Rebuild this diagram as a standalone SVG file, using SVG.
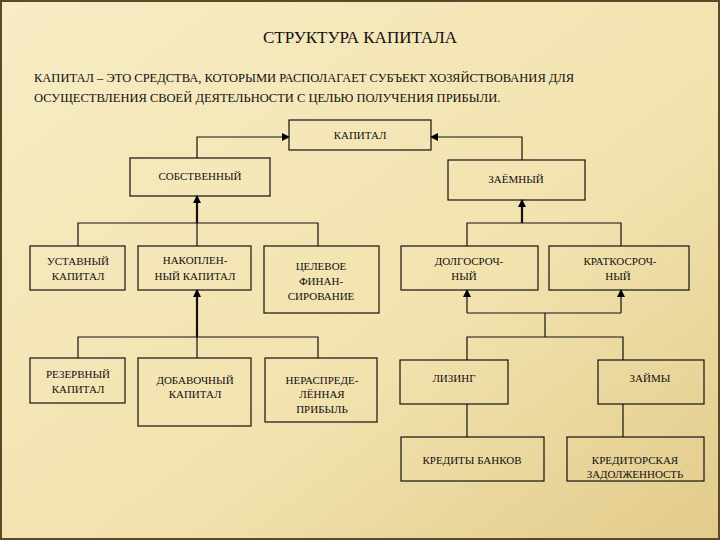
<svg xmlns="http://www.w3.org/2000/svg" width="720" height="540" viewBox="0 0 720 540">
<defs>
<linearGradient id="bg" x1="0" y1="0" x2="1" y2="1">
<stop offset="0" stop-color="#f7ecc4"/><stop offset="0.6" stop-color="#f2e2ae"/><stop offset="1" stop-color="#e2cb8a"/>
</linearGradient>
<marker id="ar" markerWidth="8" markerHeight="8" refX="7" refY="4" orient="auto" markerUnits="userSpaceOnUse">
<path d="M0,0 L8,4 L0,8 Z" fill="#000"/>
</marker>
<style>
.b{fill:none;stroke:#111;stroke-width:1.2}
.t{font-family:"Liberation Serif",serif;font-size:11px;fill:#111;text-anchor:middle}
.c{fill:none;stroke:#111;stroke-width:1.2}
.k{fill:none;stroke:#111;stroke-width:2.2}
</style>
</defs>
<rect width="720" height="540" fill="url(#bg)"/>
<rect x="1" y="1" width="718" height="538" fill="none" stroke="#5a4a2a" stroke-width="2"/>
<text x="360" y="43" font-family="Liberation Serif,serif" font-size="17" text-anchor="middle" fill="#111">СТРУКТУРА КАПИТАЛА</text>
<text x="34" y="82" font-family="Liberation Serif,serif" font-size="12.5" fill="#111">КАПИТАЛ – ЭТО СРЕДСТВА, КОТОРЫМИ РАСПОЛАГАЕТ СУБЪЕКТ ХОЗЯЙСТВОВАНИЯ ДЛЯ</text>
<text x="34" y="102" font-family="Liberation Serif,serif" font-size="12.5" fill="#111">ОСУЩЕСТВЛЕНИЯ СВОЕЙ ДЕЯТЕЛЬНОСТИ С ЦЕЛЬЮ ПОЛУЧЕНИЯ ПРИБЫЛИ.</text>
<g id="connectors">
<path class="c" d="M197,158 V137 H289" marker-end="url(#ar)"/>
<path class="c" d="M522,160 V137 H431" marker-end="url(#ar)"/>
<path class="k" d="M197,223 V196" marker-end="url(#ar)"/>
<path class="c" d="M78,246 V223 H318 V246 M197,223 V246"/>
<path class="k" d="M197,337 V290" marker-end="url(#ar)"/>
<path class="c" d="M78,358 V337 H318 V358 M197,337 V358"/>
<path class="k" d="M522,223 V200" marker-end="url(#ar)"/>
<path class="c" d="M467,246 V223 H621 V246"/>
<path class="c" d="M467,313 V290" marker-end="url(#ar)"/>
<path class="c" d="M621,313 V290" marker-end="url(#ar)"/>
<path class="c" d="M467,313 H621 M545,313 V337 M467,360 V337 H623 V360"/>
<path class="c" d="M467,404 V437 M623,404 V437"/>
</g>
<g id="n-kapital"><rect class="b" x="289" y="120" width="142" height="30"/><text class="t" x="360" y="139">КАПИТАЛ</text></g>
<g id="n-sobst"><rect class="b" x="130" y="158" width="140" height="38"/><text class="t" x="200" y="180">СОБСТВЕННЫЙ</text></g>
<g id="n-zaem"><rect class="b" x="448" y="160" width="137" height="40"/><text class="t" x="516" y="183">ЗАЁМНЫЙ</text></g>
<g id="n-ustav"><rect class="b" x="30" y="246" width="95" height="44"/><text class="t" x="78" y="265">УСТАВНЫЙ</text><text class="t" x="78" y="280">КАПИТАЛ</text></g>
<g id="n-nakop"><rect class="b" x="138" y="246" width="113" height="44"/><text class="t" x="195" y="264">НАКОПЛЕН-</text><text class="t" x="195" y="280">НЫЙ КАПИТАЛ</text></g>
<g id="n-celev"><rect class="b" x="264" y="246" width="115" height="67"/><text class="t" x="321" y="270">ЦЕЛЕВОЕ</text><text class="t" x="321" y="285">ФИНАН-</text><text class="t" x="321" y="300">СИРОВАНИЕ</text></g>
<g id="n-dolg"><rect class="b" x="401" y="246" width="137" height="44"/><text class="t" x="469" y="265">ДОЛГОСРОЧ-</text><text class="t" x="464" y="280">НЫЙ</text></g>
<g id="n-krat"><rect class="b" x="549" y="246" width="140" height="44"/><text class="t" x="620" y="265">КРАТКОСРОЧ-</text><text class="t" x="618" y="280">НЫЙ</text></g>
<g id="n-rezerv"><rect class="b" x="30" y="358" width="95" height="45"/><text class="t" x="78" y="378">РЕЗЕРВНЫЙ</text><text class="t" x="78" y="393">КАПИТАЛ</text></g>
<g id="n-dobav"><rect class="b" x="138" y="358" width="113" height="68"/><text class="t" x="195" y="384">ДОБАВОЧНЫЙ</text><text class="t" x="195" y="398">КАПИТАЛ</text></g>
<g id="n-neras"><rect class="b" x="265" y="358" width="112" height="64"/><text class="t" x="322" y="384">НЕРАСПРЕДЕ-</text><text class="t" x="322" y="398">ЛЁННАЯ</text><text class="t" x="322" y="413">ПРИБЫЛЬ</text></g>
<g id="n-lizing"><rect class="b" x="400" y="360" width="108" height="44"/><text class="t" x="454" y="382">ЛИЗИНГ</text></g>
<g id="n-zaimy"><rect class="b" x="598" y="360" width="106" height="44"/><text class="t" x="650" y="382">ЗАЙМЫ</text></g>
<g id="n-kred"><rect class="b" x="401" y="437" width="143" height="44"/><text class="t" x="472" y="464">КРЕДИТЫ БАНКОВ</text></g>
<g id="n-kreditor"><rect class="b" x="567" y="437" width="137" height="44"/><text class="t" x="635" y="464">КРЕДИТОРСКАЯ</text><text class="t" x="635" y="478">ЗАДОЛЖЕННОСТЬ</text></g>
</svg>
